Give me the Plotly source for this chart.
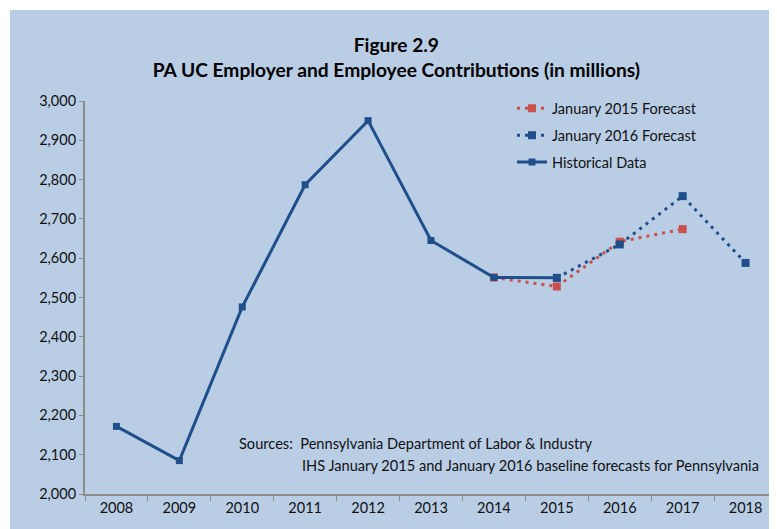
import plotly.graph_objects as go

years = ["2008", "2009", "2010", "2011", "2012", "2013", "2014", "2015", "2016", "2017", "2018"]

hist_years = ["2008", "2009", "2010", "2011", "2012", "2013", "2014", "2015"]
hist_values = [2172, 2085, 2476, 2787, 2950, 2645, 2551, 2550]

fc2015_years = ["2014", "2015", "2016", "2017"]
fc2015_values = [2551, 2528, 2642, 2674]

fc2016_years = ["2015", "2016", "2017", "2018"]
fc2016_values = [2550, 2635, 2758, 2588]

BG = "#B9CDE5"
BLUE = "#1F4E8A"
RED = "#C9504C"
FONT = "Lato"

fig = go.Figure()
fig.add_trace(go.Scatter(
    x=fc2015_years, y=fc2015_values, name="January 2015 Forecast",
    mode="lines+markers", legendgroup="a",
    line=dict(color=RED, width=3, dash="3px,5px"),
    marker=dict(symbol="square", size=8, color=RED),
))
fig.add_trace(go.Scatter(
    x=fc2016_years, y=fc2016_values, name="January 2016 Forecast",
    mode="lines+markers", legendgroup="b",
    line=dict(color=BLUE, width=3, dash="3px,5px"),
    marker=dict(symbol="square", size=8, color=BLUE),
))
fig.add_trace(go.Scatter(
    x=hist_years, y=hist_values, name="Historical Data",
    mode="lines+markers", legendgroup="c",
    line=dict(color=BLUE, width=3),
    marker=dict(symbol="square", size=7, color=BLUE),
))

# light-blue chart area, leaving a thin white strip top and left
fig.add_shape(type="rect", xref="paper", yref="paper",
              x0=-0.1084, x1=1.02, y0=-0.1, y1=1.2316,
              fillcolor=BG, line_width=0, layer="below")

fig.add_annotation(xref="paper", yref="paper", x=(237 - 85) / 692, y=(494 - 443) / 393,
                   xanchor="left", yanchor="middle", showarrow=False,
                   text="Sources:  Pennsylvania Department of Labor & Industry",
                   font=dict(family=FONT, size=14.6, color="#111"))
fig.add_annotation(xref="paper", yref="paper", x=(300 - 85) / 692, y=(494 - 465) / 393,
                   xanchor="left", yanchor="middle", showarrow=False,
                   text="IHS January 2015 and January 2016 baseline forecasts for Pennsylvania",
                   font=dict(family=FONT, size=14.6, color="#111"))

fig.update_layout(
    width=769, height=521,
    margin=dict(l=77, r=0, t=93, b=35),
    paper_bgcolor="white",
    plot_bgcolor="rgba(0,0,0,0)",
    font=dict(family=FONT, size=14.5, color="#111"),
    title=dict(
        text="<b>Figure 2.9</b><br><b>PA UC Employer and Employee Contributions (in millions)</b>",
        x=0.505, xanchor="center", y=0.9155, yanchor="middle",
        font=dict(family=FONT, size=19.2, color="#000"),
    ),
    showlegend=True,
    legend=dict(
        x=(512 - 85) / 692, y=1.022, xanchor="left", yanchor="top",
        bgcolor="rgba(0,0,0,0)", font=dict(family=FONT, size=14.5, color="#111"),
        tracegroupgap=5,
    ),
    xaxis=dict(
        type="category", categoryorder="array", categoryarray=years,
        range=[-0.5, 10.5],
        showline=True, linecolor="#8C8C8C", linewidth=2,
        ticks="outside", tickson="boundaries", ticklen=5, tickcolor="#8C8C8C",
        showgrid=False, zeroline=False,
    ),
    yaxis=dict(
        range=[2000, 3000], dtick=100, tickformat=",",
        showline=True, linecolor="#8C8C8C", linewidth=2,
        ticks="outside", ticklen=4, tickcolor="#8C8C8C",
        showgrid=False, zeroline=False,
    ),
)

fig.write_html("out.html")
